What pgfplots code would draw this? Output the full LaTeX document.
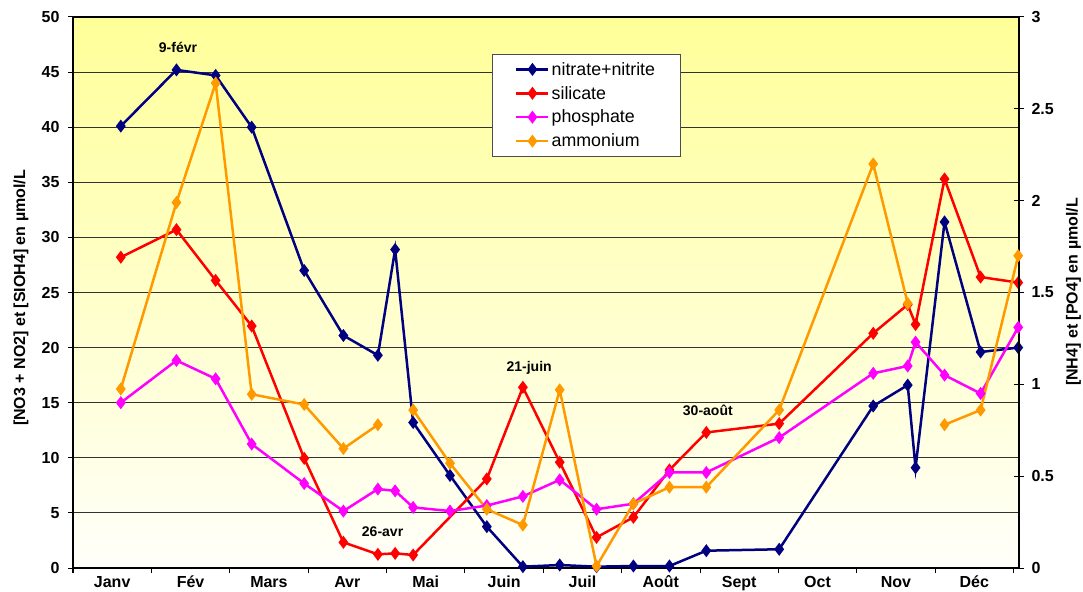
\documentclass[border=0pt]{standalone}
\usepackage{pgfplots}
\pgfplotsset{compat=1.18}
\usepackage{fontspec}
\setmainfont{Liberation Sans}
\definecolor{cNit}{RGB}{0,0,128}
\definecolor{cSil}{RGB}{255,0,0}
\definecolor{cPho}{RGB}{255,0,255}
\definecolor{cAmm}{RGB}{255,153,0}
\definecolor{bgTop}{RGB}{255,255,153}
\definecolor{bgBot}{RGB}{255,255,250}
\definecolor{gridc}{RGB}{50,50,50}
\begin{document}
\begin{tikzpicture}
\useasboundingbox (0,0) rectangle (1083pt,591pt);
\pgfplotsset{
  common/.style={
    scale only axis, width=946pt, height=551pt,
    at={(73pt,23pt)}, anchor=south west,
    xmin=0, xmax=12.07, ymin=0,
    clip=false,
    tick label style={font=\bfseries\fontsize{16}{16}\selectfont},
    /pgf/number format/assume math mode=true,
    unbounded coords=jump,
  },
  ser/.style={#1, line width=2.5pt, mark=diamond*, mark size=4.5pt, mark options={solid, fill=#1}},
}
\begin{axis}[common,
  ymax=50, ytick={0,5,...,50}, ytick pos=left,
  xtick={0,...,12}, xtick pos=bottom, x tick label as interval,
  xticklabels={Janv,Fév,Mars,Avr,Mai,Juin,Juil,Août,Sept,Oct,Nov,Déc},
  tick align=outside, major tick length=5pt,
  tick style={black, line width=1pt},
  yticklabel style={xshift=-5pt},
  xticklabel style={yshift=0.5pt},
  ymajorgrids, grid style={gridc, line width=0.8pt},
  axis background/.style={top color=bgTop, bottom color=bgBot},
  axis line style={black, line width=1.2pt},
  ylabel={[NO3 + NO2] et [SIOH4] en µmol/L},
  every axis y label/.style={at={(axis description cs:-0.055,0.49)}, anchor=center, rotate=90, font=\bfseries\fontsize{16}{19}\selectfont},
]
\addplot[ser=cNit] coordinates {
(0.61,40.1) (1.32,45.2) (1.82,44.7) (2.28,40.0) (2.95,27.0) (3.45,21.1) (3.89,19.3) (4.11,28.9)
(4.34,13.2) (4.81,8.4) (5.28,3.75) (5.74,0.12) (6.21,0.27) (6.68,0.12) (7.15,0.18) (7.61,0.18)
(8.08,1.57) (9.01,1.7) (10.21,14.7) (10.65,16.6) (10.75,9.1) (11.12,31.4) (11.58,19.6) (12.06,20.0)
};
\addplot[ser=cSil] coordinates {
(0.61,28.2) (1.32,30.7) (1.82,26.1) (2.28,21.96) (2.95,9.95) (3.45,2.33) (3.89,1.24) (4.11,1.33)
(4.34,1.18) (5.28,8.08) (5.74,16.4) (6.21,9.6) (6.68,2.78) (7.15,4.6) (7.61,8.9)
(8.08,12.3) (9.01,13.1) (10.21,21.3) (10.65,23.9) (10.75,22.1) (11.12,35.3) (11.58,26.4) (12.06,25.9)
};
\node[font=\bfseries\fontsize{14}{14}\selectfont] at (axis cs:1.34,47.2) {9-févr};
\node[font=\bfseries\fontsize{14}{14}\selectfont] at (axis cs:3.95,3.27) {26-avr};
\node[font=\bfseries\fontsize{14}{14}\selectfont] at (axis cs:5.82,18.15) {21-juin};
\node[font=\bfseries\fontsize{14}{14}\selectfont] at (axis cs:8.10,14.34) {30-août};
\end{axis}
\begin{axis}[common,
  ymax=3, ytick={0,0.5,1,1.5,2,2.5,3},
  axis y line*=right, axis x line=none,
  tick align=center, major tick length=10pt,
  tick style={black, line width=1pt},
  yticklabel style={xshift=4pt},
  axis line style={black, line width=1.2pt},
  ylabel={[NH4] et [PO4] en µmol/L},
  every axis y label/.style={at={(axis description cs:1.0575,0.501)}, anchor=center, rotate=90, font=\bfseries\fontsize{16}{19}\selectfont},
  legend style={at={(axis description cs:0.4429,0.9328)}, anchor=north west,
    draw=gray!60!black, fill=white, font=\fontsize{17.8}{20}\selectfont,
    inner xsep=23pt, inner ysep=6pt, row sep=5.5pt, cells={anchor=west}},
  legend image code/.code={\draw[mark repeat=2,mark phase=2] plot coordinates {(0pt,0pt) (16pt,0pt) (32pt,0pt)};},
]
\addlegendimage{ser=cNit}
\addlegendimage{ser=cSil}
\addplot[ser=cPho] coordinates {
(0.61,0.90) (1.32,1.13) (1.82,1.03) (2.28,0.675) (2.95,0.46) (3.45,0.31) (3.89,0.43) (4.11,0.42)
(4.34,0.33) (4.81,0.31) (5.28,0.34) (5.74,0.39) (6.21,0.48) (6.68,0.32) (7.15,0.35) (7.61,0.52)
(8.08,0.52) (9.01,0.71) (10.21,1.06) (10.65,1.10) (10.75,1.23) (11.12,1.05) (11.58,0.95) (12.06,1.31)
};
\addplot[ser=cAmm] coordinates {
(0.61,0.975) (1.32,1.99) (1.82,2.64) (2.28,0.946) (2.95,0.89) (3.45,0.65) (3.89,0.78) (4.11,nan)
(4.34,0.86) (4.81,0.57) (5.28,0.32) (5.74,0.234) (6.21,0.97) (6.68,0.01) (7.15,0.35) (7.61,0.44)
(8.08,0.44) (9.01,0.86) (10.21,2.20) (10.65,1.44) (10.75,nan) (11.12,0.78) (11.58,0.86) (12.06,1.70)
};
\legend{nitrate+nitrite,silicate,phosphate,ammonium}
\end{axis}
\end{tikzpicture}
\end{document}
